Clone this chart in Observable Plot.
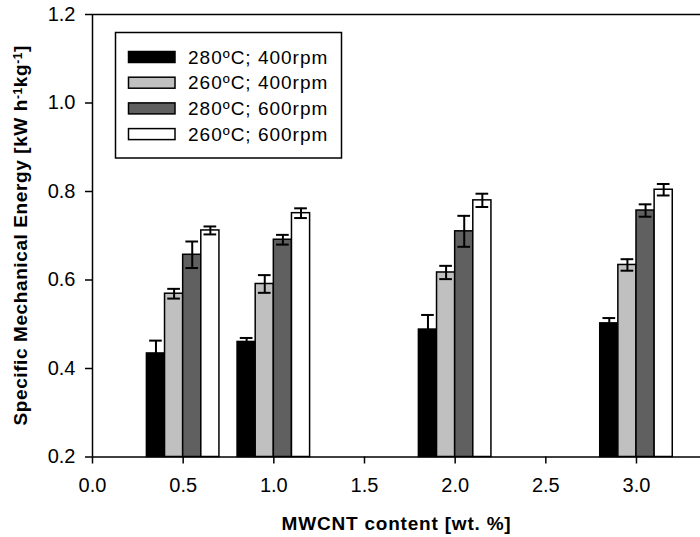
<!DOCTYPE html>
<html><head><meta charset="utf-8">
<script src="https://cdn.jsdelivr.net/npm/d3@7"></script>
<script src="https://cdn.jsdelivr.net/npm/@observablehq/plot@0.6"></script>
<style>body{margin:0;background:#fff} svg{display:block;font-family:"Liberation Sans",Arial,sans-serif}</style>
</head><body><div id="chart"></div>
<script>
const contents = [0.5, 1.0, 2.0, 3.0];
const seriesNames = ["280ºC; 400rpm", "260ºC; 400rpm", "280ºC; 600rpm", "260ºC; 600rpm"];
const seriesColors = ["#000000", "#c0c0c0", "#606060", "#ffffff"];
const sme280_400 = [0.434, 0.460, 0.488, 0.502];
const err280_400 = [0.029, 0.009, 0.033, 0.012];
const sme260_400 = [0.569, 0.591, 0.617, 0.634];
const err260_400 = [0.011, 0.020, 0.015, 0.013];
const sme280_600 = [0.657, 0.691, 0.710, 0.757];
const err280_600 = [0.030, 0.011, 0.035, 0.014];
const sme260_600 = [0.712, 0.751, 0.780, 0.804];
const err260_600 = [0.009, 0.011, 0.015, 0.013];
const xTicks = [0.0, 0.5, 1.0, 1.5, 2.0, 2.5, 3.0];
const yTicks = [0.2, 0.4, 0.6, 0.8, 1.0, 1.2];
const xLabel = "MWCNT content [wt. %]";
const yLabelParts = [["Specific Mechanical Energy [kW h", false], ["-1", true], ["kg", false], ["-1", true], ["]", false]];

const values = [sme280_400, sme260_400, sme280_600, sme260_600];
const errors = [err280_400, err260_400, err280_600, err260_600];
const barW = 0.1;
const rows = [];
values.forEach((vals, s) => vals.forEach((v, i) => {
  const x1 = contents[i] - 2 * barW + s * barW;
  rows.push({series: seriesNames[s], s, x1, x2: x1 + barW, xc: x1 + barW / 2,
    y: v, lo: v - errors[s][i], hi: v + errors[s][i]});
}));
const caps = rows.flatMap(d => [{...d, cy: d.hi}, {...d, cy: d.lo}]);
const capHalf = 0.035;

const plot = Plot.plot({
  width: 700, height: 537,
  marginLeft: 92, marginRight: 0, marginTop: 14, marginBottom: 80.5,
  style: {fontFamily: '"Liberation Sans", Arial, sans-serif', background: "#fff"},
  x: {domain: [0, 3.353]},
  y: {domain: [0.2, 1.2]},
  color: {domain: seriesNames, range: seriesColors},
  marks: [
    Plot.rectY(rows, {x1: "x1", x2: "x2", y1: 0.2, y2: "y", fill: "series", stroke: "#000", strokeWidth: 1.5}),
    Plot.ruleX(rows, {x: "xc", y1: "lo", y2: "hi", stroke: "#000", strokeWidth: 2}),
    Plot.ruleY(caps, {y: "cy", x1: d => d.xc - capHalf, x2: d => d.xc + capHalf, stroke: "#000", strokeWidth: 2}),
    Plot.ruleX([0], {stroke: "#000", strokeWidth: 1.5}),
    Plot.ruleY([0.2], {stroke: "#000", strokeWidth: 1.5}),
    Plot.ruleY([1.2], {stroke: "#000", strokeWidth: 1.5}),
    Plot.axisX({ticks: xTicks, tickFormat: d3.format(".1f"), tickSize: 7, tickPadding: 14, fontSize: 20, label: null, stroke: "#000", strokeWidth: 1.5, color: "#000"}),
    Plot.axisY({ticks: yTicks, tickFormat: d3.format(".1f"), tickSize: 7, tickPadding: 10, fontSize: 20, label: null, stroke: "#000", strokeWidth: 1.5, color: "#000"}),
    Plot.text([xLabel], {frameAnchor: "bottom", dy: 66.5, lineAnchor: "middle", textAnchor: "middle", fontWeight: "bold", fontSize: 19, fill: "#000"})
  ]
});
document.getElementById("chart").appendChild(plot);

const svg = d3.select(plot);
svg.selectAll('g[aria-label="x-axis tick label"] text, g[aria-label="y-axis tick label"] text')
  .style("font-size", "20px");
svg.selectAll('g[aria-label="text"] text').style("letter-spacing", "0.8px").style("font-size", "19px");

// y label with real superscripts
const yt = svg.append("text")
  .attr("transform", `translate(20,${(14 + 456.5) / 2}) rotate(-90)`)
  .attr("text-anchor", "middle").attr("dy", "0.35em")
  .attr("font-weight", "bold").attr("font-size", 19).attr("letter-spacing", "0.6px").attr("fill", "#000");
yLabelParts.forEach(([t, sup]) => {
  const ts = yt.append("tspan").text(t);
  if (sup) ts.attr("font-size", 12).attr("baseline-shift", "45%");
});

// legend
const lg = svg.append("g");
lg.append("rect").attr("x", 115.5).attr("y", 32.5).attr("width", 226).attr("height", 125.5)
  .attr("fill", "#fff").attr("stroke", "#000").attr("stroke-width", 1.5);
seriesNames.forEach((name, i) => {
  const cy = 57 + i * 25.7;
  lg.append("rect").attr("x", 128.5).attr("y", cy - 5.5).attr("width", 46.5).attr("height", 11)
    .attr("fill", seriesColors[i]).attr("stroke", "#000").attr("stroke-width", 1.5);
  lg.append("text").attr("x", 188).attr("y", cy).attr("dy", "0.35em").attr("text-anchor", "start")
    .attr("font-size", 19).attr("letter-spacing", "1px").attr("fill", "#000").text(name);
});
</script></body></html>
